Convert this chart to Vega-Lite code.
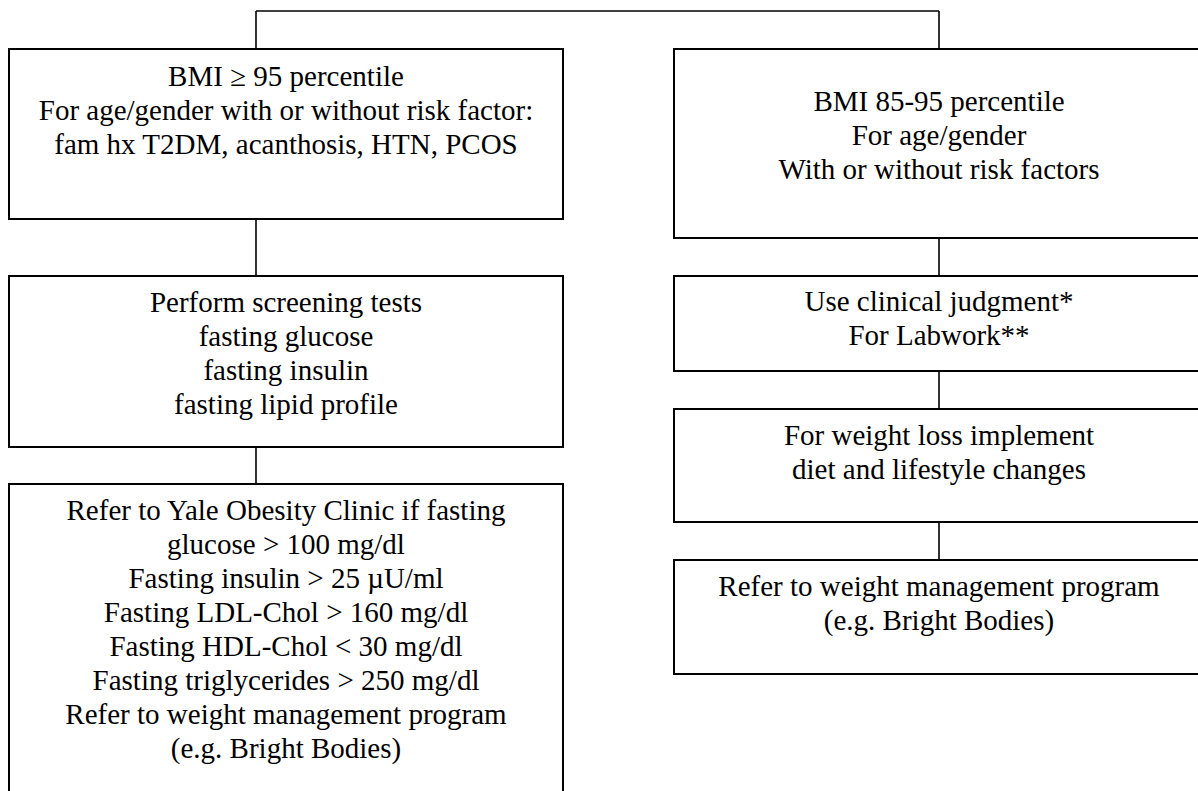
{
  "$schema": "https://vega.github.io/schema/vega-lite/v6.json",
  "width": 1198,
  "height": 791,
  "padding": 0,
  "autosize": {"type": "none"},
  "background": "white",
  "config": {"view": {"stroke": null}},
  "datasets": {
    "boxes": [
      {"x": 9, "x2": 563, "y": 49, "y2": 219},
      {"x": 9, "x2": 563, "y": 276, "y2": 447},
      {"x": 9, "x2": 563, "y": 484, "y2": 800},
      {"x": 674, "x2": 1210, "y": 49, "y2": 238},
      {"x": 674, "x2": 1210, "y": 276, "y2": 371},
      {"x": 674, "x2": 1210, "y": 409, "y2": 522},
      {"x": 674, "x2": 1210, "y": 560, "y2": 674}
    ],
    "links": [
      {"x": 256, "x2": 939, "y": 11, "y2": 11},
      {"x": 256, "x2": 256, "y": 11, "y2": 49},
      {"x": 939, "x2": 939, "y": 11, "y2": 49},
      {"x": 256, "x2": 256, "y": 219, "y2": 276},
      {"x": 256, "x2": 256, "y": 447, "y2": 484},
      {"x": 939, "x2": 939, "y": 238, "y2": 276},
      {"x": 939, "x2": 939, "y": 371, "y2": 409},
      {"x": 939, "x2": 939, "y": 522, "y2": 560}
    ],
    "labels": [
      {"x": 286, "y": 77, "text": "BMI ≥ 95 percentile"},
      {"x": 286, "y": 111, "text": "For age/gender with or without risk factor:"},
      {"x": 286, "y": 145, "text": "fam hx T2DM, acanthosis, HTN, PCOS"},
      {"x": 286, "y": 303, "text": "Perform screening tests"},
      {"x": 286, "y": 337, "text": "fasting glucose"},
      {"x": 286, "y": 371, "text": "fasting insulin"},
      {"x": 286, "y": 405, "text": "fasting lipid profile"},
      {"x": 286, "y": 511, "text": "Refer to Yale Obesity Clinic if fasting"},
      {"x": 286, "y": 545, "text": "glucose > 100 mg/dl"},
      {"x": 286, "y": 579, "text": "Fasting insulin > 25 µU/ml"},
      {"x": 286, "y": 613, "text": "Fasting LDL-Chol > 160 mg/dl"},
      {"x": 286, "y": 647, "text": "Fasting HDL-Chol < 30 mg/dl"},
      {"x": 286, "y": 681, "text": "Fasting triglycerides > 250 mg/dl"},
      {"x": 286, "y": 715, "text": "Refer to weight management program"},
      {"x": 286, "y": 749, "text": "(e.g. Bright Bodies)"},
      {"x": 939, "y": 102, "text": "BMI 85-95 percentile"},
      {"x": 939, "y": 136, "text": "For age/gender"},
      {"x": 939, "y": 170, "text": "With or without risk factors"},
      {"x": 939, "y": 302, "text": "Use clinical judgment*"},
      {"x": 939, "y": 336, "text": "For Labwork**"},
      {"x": 939, "y": 436, "text": "For weight loss implement"},
      {"x": 939, "y": 470, "text": "diet and lifestyle changes"},
      {"x": 939, "y": 587, "text": "Refer to weight management program"},
      {"x": 939, "y": 621, "text": "(e.g. Bright Bodies)"}
    ]
  },
  "layer": [
    {
      "data": {"name": "boxes"},
      "mark": {"type": "rect", "fill": "white", "stroke": "black", "strokeWidth": 2},
      "encoding": {
        "x": {"field": "x", "type": "quantitative", "scale": {"domain": [0, 1198], "nice": false, "zero": false}, "axis": null},
        "x2": {"field": "x2"},
        "y": {"field": "y", "type": "quantitative", "scale": {"domain": [0, 791], "nice": false, "zero": false, "reverse": true}, "axis": null},
        "y2": {"field": "y2"}
      }
    },
    {
      "data": {"name": "links"},
      "mark": {"type": "rule", "color": "black", "strokeWidth": 1.6},
      "encoding": {
        "x": {"field": "x", "type": "quantitative"},
        "x2": {"field": "x2"},
        "y": {"field": "y", "type": "quantitative"},
        "y2": {"field": "y2"}
      }
    },
    {
      "data": {"name": "labels"},
      "mark": {"type": "text", "font": "Liberation Serif", "fontSize": 29, "color": "black", "align": "center", "baseline": "middle"},
      "encoding": {
        "x": {"field": "x", "type": "quantitative"},
        "y": {"field": "y", "type": "quantitative"},
        "text": {"field": "text"}
      }
    }
  ]
}
